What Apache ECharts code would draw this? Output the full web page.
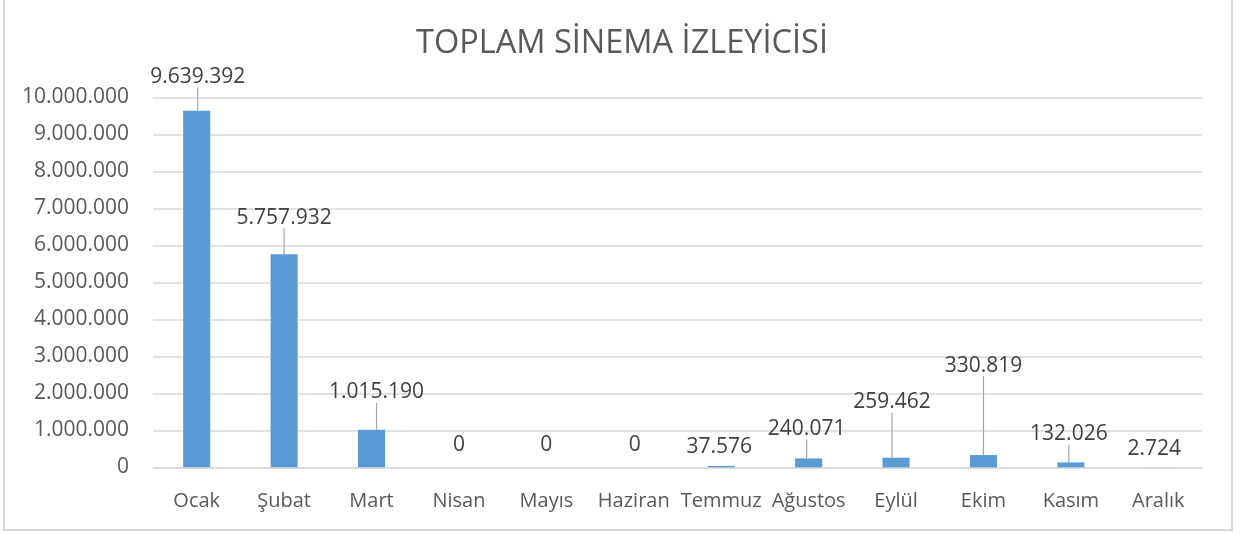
<!DOCTYPE html>
<html>
<head>
<meta charset="utf-8">
<script src="https://cdn.jsdelivr.net/npm/echarts@6/dist/echarts.min.js"></script>
<style>
  html, body { margin: 0; padding: 0; background: #ffffff; }
  #chart { width: 1244px; height: 534px; }
</style>
</head>
<body>
<div id="chart"></div>
<script>
// ---- Data ----
const chartTitle = 'TOPLAM SİNEMA İZLEYİCİSİ';
const months = ['Ocak', 'Şubat', 'Mart', 'Nisan', 'Mayıs', 'Haziran', 'Temmuz', 'Ağustos', 'Eylül', 'Ekim', 'Kasım', 'Aralık'];
const viewers = [9639392, 5757932, 1015190, 0, 0, 0, 37576, 240071, 259462, 330819, 132026, 2724];
const yTicks = { min: 0, max: 10000000, interval: 1000000 };

// ---- Label callout styling (pixel offsets, not data) ----
const labelDx = [1, 0, 5, 0, 0, 1, -2, -2, -4, 0, -2, -4];
const labelDy = [-17, -20, -21, -6, -6, -6, -2, -13, -39, -73, -12, -2];
const showLeader = [true, true, true, false, false, false, false, true, true, true, true, false];

function fmt(v) {
  return String(Math.round(v)).replace(/\B(?=(\d{3})+(?!\d))/g, '.');
}

const font = '"Open Sans", "Noto Sans", sans-serif';
const chart = echarts.init(document.getElementById('chart'), null, { renderer: 'canvas' });

chart.setOption({
  backgroundColor: '#ffffff',
  animation: false,
  title: {
    text: chartTitle,
    left: 'center',
    top: 22,
    textStyle: { fontFamily: font, fontSize: 32.5, fontWeight: 'normal', color: '#595959' }
  },
  graphic: [{
    type: 'rect',
    shape: { x: 4, y: -2, width: 1228, height: 532 },
    style: { fill: 'none', stroke: '#d9d9d9', lineWidth: 2 },
    silent: true
  }],
  grid: { left: 153, right: 42, top: 97.3, bottom: 66.7, containLabel: false },
  xAxis: {
    type: 'category',
    data: months,
    axisTick: { show: false },
    axisLine: { lineStyle: { color: '#d9d9d9', width: 1.5 } },
    axisLabel: { fontFamily: font, fontSize: 20, color: '#595959', margin: 24, interval: 0 }
  },
  yAxis: {
    type: 'value',
    min: yTicks.min, max: yTicks.max, interval: yTicks.interval,
    axisLine: { show: false },
    axisTick: { show: false },
    splitLine: { lineStyle: { color: '#d9d9d9', width: 1.5 } },
    axisLabel: { fontFamily: font, fontSize: 21, color: '#595959', margin: 24, formatter: fmt }
  },
  series: [{
    type: 'bar',
    barWidth: '31%',
    data: viewers.map((v, i) => ({ value: v, labelLine: { show: showLeader[i] } })),
    itemStyle: { color: '#5b9bd5' },
    label: {
      show: true,
      position: 'top',
      distance: 2,
      padding: [0, 0, 4, 0],
      fontFamily: font,
      fontSize: 21,
      color: '#404040',
      formatter: p => fmt(p.value)
    },
    labelLine: { show: true, lineStyle: { color: '#a6a6a6', width: 1.2 } },
    labelLayout: function (params) {
      return { dx: labelDx[params.dataIndex], dy: labelDy[params.dataIndex] };
    }
  }]
});
</script>
</body>
</html>
